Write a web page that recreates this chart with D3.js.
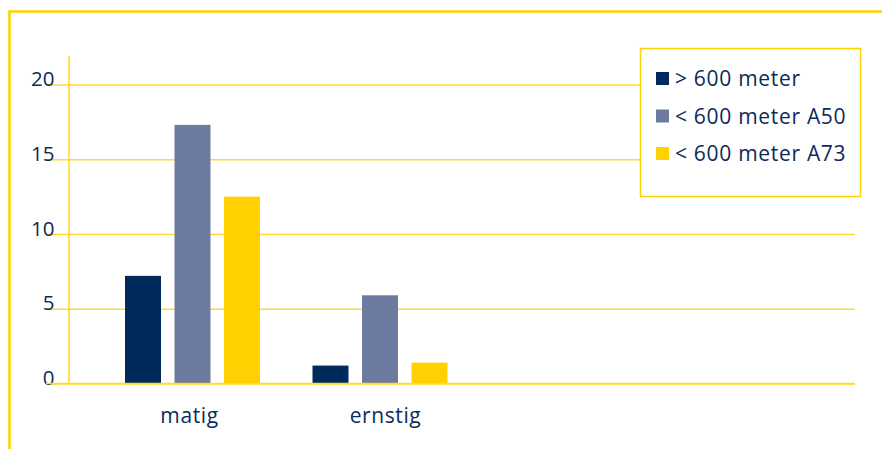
<!DOCTYPE html>
<html><head><meta charset="utf-8">
<script src="https://cdn.jsdelivr.net/npm/d3@7"></script>
<style>html,body{margin:0;padding:0;background:#fff;}svg{display:block;}</style>
</head><body>
<svg id="c" width="882" height="449"></svg>
<script>
const categories = ["matig", "ernstig"];
const seriesNames = ["> 600 meter", "< 600 meter A50", "< 600 meter A73"];
const seriesColors = ["#002a5c", "#6e7ba1", "#ffd100"];
const valuesAbove600 = [7.2, 1.2];
const valuesA50 = [17.3, 5.9];
const valuesA73 = [12.5, 1.4];
const yTicks = [0, 5, 10, 15, 20];

const seriesValues = [valuesAbove600, valuesA50, valuesA73];
const textColor = "#0c2a5b";
const gold = "#ffd200";
const font = "'Open Sans', sans-serif";

const svg = d3.select("#c");

// frame
svg.append("path").attr("d", "M9.5,449V11.5H882").attr("fill", "none")
  .attr("stroke", gold).attr("stroke-width", 2.6);

const y = d3.scaleLinear().domain([0, 20]).range([383.5, 84.5]);
const x0 = d3.scaleBand().domain(categories).range([98.75, 473.75]).padding(0);
const x1 = d3.scaleBand().domain(seriesNames).range([26.25, 161.25]).paddingInner(13.5 / 49.5).paddingOuter(0);
const xLabel = d3.scalePoint().domain(categories).range([189.5, 385.5]);

// gridlines & tick labels
const axis = d3.axisLeft(y).tickValues(yTicks).tickSize(-(855 - 46)).tickPadding(-8.5).tickFormat(d3.format("d"));
const gAx = svg.append("g").attr("transform", "translate(46,0)").call(axis);
gAx.select(".domain").remove();
gAx.selectAll(".tick line").attr("stroke", "#ffda33").attr("stroke-width", 1.3);
gAx.selectAll(".tick text").attr("fill", textColor).attr("dy", "0.05em")
  .style("font-family", font).style("font-size", "20.5px");

// vertical axis line
svg.append("line").attr("x1", 69).attr("x2", 69).attr("y1", 56).attr("y2", y(0))
  .attr("stroke", gold).attr("stroke-width", 1.3);

// bars
const groups = svg.append("g").selectAll("g").data(categories).join("g")
  .attr("transform", d => `translate(${x0(d)},0)`);
groups.selectAll("rect").data((c, ci) => seriesNames.map((s, si) => ({s, si, v: seriesValues[si][ci]})))
  .join("rect")
  .attr("x", d => x1(d.s)).attr("width", x1.bandwidth())
  .attr("y", d => y(d.v)).attr("height", d => y(0) - y(d.v))
  .attr("fill", d => seriesColors[d.si]);

// redraw baseline over bars
svg.append("line").attr("x1", 46).attr("x2", 855).attr("y1", y(0)).attr("y2", y(0))
  .attr("stroke", "#ffda33").attr("stroke-width", 1.3);

// category labels
svg.append("g").selectAll("text").data(categories).join("text")
  .attr("x", d => xLabel(d)).attr("y", 422.5)
  .attr("text-anchor", "middle").attr("fill", textColor)
  .style("font-family", font).style("font-size", "21px").style("letter-spacing", "0.6px")
  .text(d => d);

// legend
const lg = svg.append("g");
lg.append("rect").attr("x", 640.5).attr("y", 48.5).attr("width", 220).attr("height", 148)
  .attr("fill", "#fff").attr("stroke", gold).attr("stroke-width", 1.5);
const items = lg.selectAll("g.item").data(seriesNames).join("g").attr("class", "item")
  .attr("transform", (d, i) => `translate(656,${86 + i * 37.5})`);
items.append("rect").attr("x", 0).attr("y", -14).attr("width", 13).attr("height", 13)
  .attr("fill", (d, i) => seriesColors[i]);
items.append("text").attr("x", 19).attr("y", 0).attr("fill", textColor)
  .style("font-family", font).style("font-size", "21px").style("letter-spacing", "0.7px")
  .text(d => d);
</script>
</body></html>
